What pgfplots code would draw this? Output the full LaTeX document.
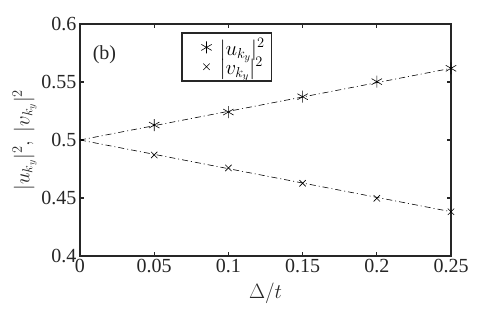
\documentclass[border=0pt]{standalone}
\usepackage{fontspec}
\setmainfont{Liberation Serif}
\usepackage{pgfplots}
\pgfplotsset{compat=1.18}
\usetikzlibrary{calc}
\definecolor{axgray}{HTML}{262626}
\begin{document}
\begin{tikzpicture}
\begin{axis}[
  name=ax,
  scale only axis,
  width=371pt, height=232pt,
  xmin=0, xmax=0.25, ymin=0.4, ymax=0.6,
  xtick={0,0.05,0.1,0.15,0.2,0.25},
  xticklabels={0,0.05,0.1,0.15,0.2,0.25},
  ytick={0.4,0.45,0.5,0.55,0.6},
  yticklabels={0.4,0.45,0.5,0.55,0.6},
  tick align=inside,
  major tick length=4pt,
  tick style={axgray, line width=1.2pt},
  axis line style={axgray, line width=1.6pt},
  ticklabel style={font=\fontsize{20}{24}\selectfont, text=axgray},
  xlabel={$\Delta/t$},
  ylabel={$|u_{k_y}|^2,\ |v_{k_y}|^2$},
  label style={font=\fontsize{20}{24}\selectfont, text=axgray},
  xlabel style={yshift=-3pt},
  ylabel style={yshift=-2pt},
  legend style={name=leg, at={(0.275,0.961)}, anchor=north west, draw=axgray,
     row sep=-3pt, inner xsep=5pt, inner ysep=3pt},
  legend cell align=left,
  legend image code/.code={\path (0pt,-5pt) (30pt,5pt); \draw[#1] plot coordinates {(19pt,0pt)};},
]
\addlegendimage{only marks, mark=asterisk, mark size=6pt, black, line width=0.6pt}
\addlegendentry{\fontsize{22.5}{26}\selectfont$|u_{k_y}|^2$}
\addlegendimage{only marks, mark=x, mark size=4.5pt, black, line width=0.6pt}
\addlegendentry{\fontsize{22.5}{26}\selectfont$|v_{k_y}|^2$}
\addplot[forget plot, black, dash pattern=on 6pt off 3pt on 1pt off 3pt, line width=0.6pt] coordinates {(0,0.5) (0.25,0.5618)};
\addplot[forget plot, black, dash pattern=on 6pt off 3pt on 1pt off 3pt, line width=0.6pt] coordinates {(0,0.5) (0.25,0.4382)};
\addplot[forget plot, only marks, mark=asterisk, mark size=6pt, black, line width=0.6pt] coordinates {
(0.05,0.5129) (0.1,0.5241) (0.15,0.5373) (0.2,0.5503) (0.25,0.5618)};
\addplot[forget plot, only marks, mark=x, mark size=4.5pt, black, line width=0.6pt] coordinates {
(0.05,0.4871) (0.1,0.4759) (0.15,0.4627) (0.2,0.4497) (0.25,0.4382)};
\node[anchor=west, font=\fontsize{20}{24}\selectfont, text=axgray] at (axis description cs:0.025,0.868) {(b)};
\end{axis}
\draw[axgray, line width=1.4pt] (leg.south west) rectangle (leg.north east);
\pgfresetboundingbox
\path ($(ax.south west)+(-80pt,-59pt)$) rectangle ($(ax.north east)+(43pt,24pt)$);
\end{tikzpicture}
\end{document}
